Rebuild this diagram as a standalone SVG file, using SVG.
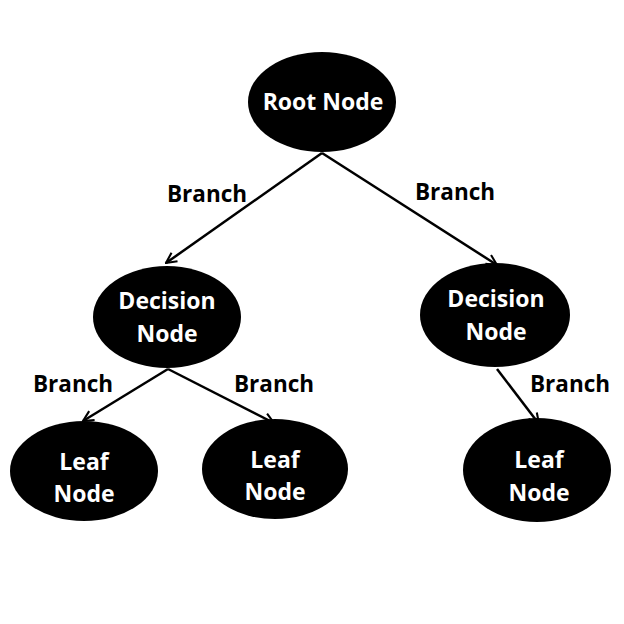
<svg xmlns="http://www.w3.org/2000/svg" width="624" height="624" viewBox="0 0 624 624">
<style>
.node{fill:#000}
.nt{fill:#fff;font-family:"Open Sans","Liberation Sans",sans-serif;font-weight:bold;font-size:23px;text-anchor:middle;dominant-baseline:central}
.lb{fill:#000;font-family:"Open Sans","Liberation Sans",sans-serif;font-weight:bold;font-size:22.5px;text-anchor:middle;dominant-baseline:central}
.edge{stroke:#000;stroke-width:2.5;fill:none;marker-end:url(#arr)}
</style>
<defs>
<marker id="arr" viewBox="0 0 12 12" refX="11" refY="6" markerWidth="5" markerHeight="5" orient="auto" markerUnits="strokeWidth">
<path d="M1,1 L11,6 L1,11" fill="none" stroke="#000" stroke-width="2"/>
</marker>
</defs>
<rect width="624" height="624" fill="#fff"/>
<g id="connectors">
<line class="edge" x1="322" y1="153" x2="166" y2="263"/>
<line class="edge" x1="322" y1="153" x2="497" y2="265"/>
<line class="edge" x1="168" y1="369" x2="83" y2="421"/>
<line class="edge" x1="168" y1="369" x2="274" y2="423"/>
<line class="edge" x1="497" y1="369" x2="539" y2="424"/>
<text class="lb" x="207" y="193">Branch</text>
<text class="lb" x="455" y="191">Branch</text>
<text class="lb" x="73" y="383">Branch</text>
<text class="lb" x="274" y="383">Branch</text>
<text class="lb" x="570" y="383">Branch</text>
</g>
<g id="root">
<ellipse class="node" cx="322" cy="102" rx="74" ry="50"/>
<text class="nt" x="323" y="101">Root Node</text>
</g>
<g id="decision-left">
<ellipse class="node" cx="167" cy="317" rx="74" ry="51"/>
<text class="nt" x="167" y="300">Decision</text>
<text class="nt" x="167" y="333">Node</text>
</g>
<g id="decision-right">
<ellipse class="node" cx="495" cy="315" rx="75" ry="52"/>
<text class="nt" x="496" y="298">Decision</text>
<text class="nt" x="496" y="331">Node</text>
</g>
<g id="leaf-left">
<ellipse class="node" cx="84" cy="471" rx="74" ry="50"/>
<text class="nt" x="84" y="461">Leaf</text>
<text class="nt" x="84" y="493">Node</text>
</g>
<g id="leaf-middle">
<ellipse class="node" cx="275" cy="469" rx="73" ry="50"/>
<text class="nt" x="275" y="459">Leaf</text>
<text class="nt" x="275" y="491">Node</text>
</g>
<g id="leaf-right">
<ellipse class="node" cx="537" cy="470" rx="74" ry="52"/>
<text class="nt" x="539" y="459">Leaf</text>
<text class="nt" x="539" y="492">Node</text>
</g>
</svg>
